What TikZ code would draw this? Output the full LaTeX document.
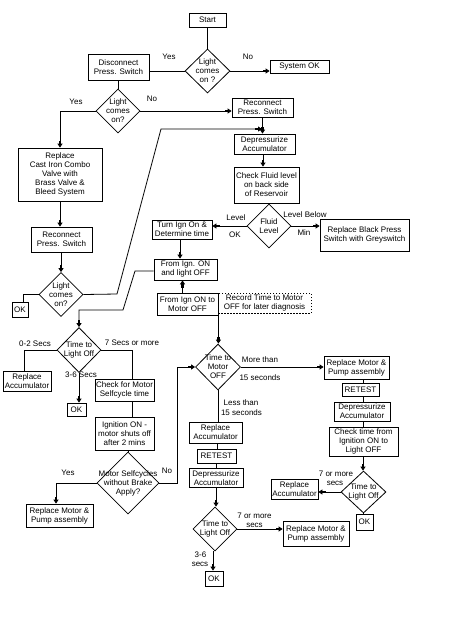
\documentclass[tikz,border=0pt]{standalone}
\usepackage{fontspec}
\setmainfont{Liberation Sans}
\usetikzlibrary{shapes.geometric,arrows.meta}
\begin{document}
\begin{tikzpicture}[x=1pt,y=-1pt,
  every node/.style={font=\fontsize{8}{9}\selectfont},
  box/.style={draw, rectangle, align=center, inner sep=0pt, line width=0.8pt},
  dbox/.style={box, dash pattern=on 1.5pt off 1.5pt},
  dia/.style={draw, diamond, inner sep=0pt, line width=0.8pt},
  lbl/.style={align=center, inner sep=0pt},
  ln/.style={line width=0.8pt},
  arr/.style={ln, -{Rectangle[length=3pt,width=2.4pt]Triangle[length=4pt,width=5pt]}},
]
\fill[white] (0,0) rectangle (448,625);
\useasboundingbox (0,0) rectangle (448,625);

% top part
\node[box, minimum width=37pt, minimum height=14pt] (start) at (207.5,20) {Start};
\node[dia, minimum width=45pt, minimum height=44pt, label={[lbl]center:{Light\\comes\\on ?}}] (d1) at (207.5,71) {};
\node[box, minimum width=61pt, minimum height=26pt] (disc) at (118.5,67) {Disconnect\\Press. Switch};
\node[box, minimum width=59pt, minimum height=13pt] (sysok) at (299.5,67) {System OK};
\node[dia, minimum width=44pt, minimum height=44pt, label={[lbl]center:{Light\\comes\\on?}}] (d2) at (118,111) {};
\node[box, minimum width=61pt, minimum height=19pt] (reconR) at (262.5,107.5) {Reconnect\\Press. Switch};
\node[box, minimum width=61pt, minimum height=20pt] (dep1) at (264.5,144) {Depressurize\\Accumulator};
\node[box, minimum width=65pt, minimum height=36pt] (check) at (266.5,185) {Check Fluid level\\on back side\\of Reservoir};
\node[dia, minimum width=44pt, minimum height=44pt, label={[lbl]center:{Fluid\\Level}}] (fluid) at (269,226) {};
\node[box, minimum width=60pt, minimum height=19pt] (turn) at (182,229.5) {Turn Ign On \&\\Determine time};
\node[box, minimum width=89pt, minimum height=32pt] (black) at (364.5,235) {Replace Black Press\\Switch with Greyswitch};
\node[box, minimum width=63pt, minimum height=21pt] (fromA) at (185.5,269.5) {From Ign. ON\\and light OFF};
\node[box, minimum width=61pt, minimum height=22pt] (fromB) at (187.5,304) {From Ign ON to\\Motor OFF};
\node[dbox, minimum width=93pt, minimum height=20pt] (record) at (264.5,303) {Record Time to Motor\\OFF for later diagnosis};

% left column
\node[box, minimum width=84pt, minimum height=53pt] (replcast) at (60,174.5) {Replace\\Cast Iron Combo\\Valve with\\Brass Valve \&\\Bleed System};
\node[box, minimum width=61pt, minimum height=25pt] (reconL) at (61.5,239.5) {Reconnect\\Press. Switch};
\node[dia, minimum width=44pt, minimum height=44pt, label={[lbl]center:{Light\\comes\\on?}}] (d3) at (61,294.5) {};
\node[box, minimum width=16pt, minimum height=15pt] (ok1) at (20,310) {OK};
\node[dia, minimum width=44pt, minimum height=45pt, label={[lbl]center:{Time to\\Light Off}}] (d4) at (79,350) {};
\node[box, minimum width=48pt, minimum height=20pt] (replacc1) at (27,381) {Replace\\Accumulator};
\node[box, minimum width=19pt, minimum height=13pt] (ok2) at (76.5,409.5) {OK};
\node[box, minimum width=59pt, minimum height=22pt] (checkmotor) at (124.5,390) {Check for Motor\\Selfcycle time};
\node[box, minimum width=59pt, minimum height=33pt] (ignition) at (124.5,433.5) {Ignition ON -\\motor shuts off\\after 2 mins};
\node[dia, minimum width=62pt, minimum height=62pt, label={[lbl]center:{Motor Selfcycles\\without Brake\\Apply?}}] (d5) at (128,483) {};
\node[box, minimum width=67pt, minimum height=23pt] (replmotor1) at (59.5,515.5) {Replace Motor \&\\Pump assembly};

% middle column
\node[dia, minimum width=45pt, minimum height=46pt, label={[lbl]center:{Time to\\Motor\\OFF}}] (d6) at (218,367) {};
\node[box, minimum width=53pt, minimum height=21pt] (replacc2) at (215.5,432.5) {Replace\\Accumulator};
\node[box, minimum width=39pt, minimum height=14pt] (retest1) at (216.5,456) {RETEST};
\node[box, minimum width=54pt, minimum height=19pt] (dep2) at (216,478) {Depressurize\\Accumulator};
\node[dia, minimum width=44pt, minimum height=44pt, label={[lbl]center:{Time to\\Light Off}}] (d7) at (215,529) {};
\node[box, minimum width=66pt, minimum height=25pt] (replmotor3) at (316,533.5) {Replace Motor \&\\Pump assembly};
\node[box, minimum width=18pt, minimum height=15pt] (ok3) at (214,578.5) {OK};

% right column
\node[box, minimum width=65pt, minimum height=23pt] (replmotor2) at (356.5,367.5) {Replace Motor \&\\Pump assembly};
\node[box, minimum width=37pt, minimum height=13pt] (retest2) at (360.5,389.5) {RETEST};
\node[box, minimum width=56pt, minimum height=19pt] (dep3) at (362,411.5) {Depressurize\\Accumulator};
\node[box, minimum width=69pt, minimum height=29pt] (checktime) at (363.5,441.5) {Check time from\\Ignition ON to\\Light OFF};
\node[dia, minimum width=45pt, minimum height=42pt, label={[lbl]center:{Time to\\Light Off}}] (d8) at (363.5,492) {};
\node[box, minimum width=47pt, minimum height=20pt] (replacc3) at (294.5,489) {Replace\\Accumulator};
\node[box, minimum width=17pt, minimum height=16pt] (ok4) at (364.5,522) {OK};

% labels
\node[lbl] (l1) at (169,57) {Yes};
\node[lbl] (l2) at (248,57) {No};
\node[lbl] (l3) at (76,102) {Yes};
\node[lbl] (l4) at (152,99) {No};
\node[lbl] (l5) at (236,218) {Level};
\node[lbl] (l6) at (235,235) {OK};
\node[lbl] (l7) at (305,215) {Level Below};
\node[lbl] (l8) at (304,233) {Min};
\node[lbl] (l9) at (35,344) {0-2 Secs};
\node[lbl] (l10) at (132,343) {7 Secs or more};
\node[lbl] (l11) at (81,375) {3-6 Secs};
\node[lbl] (l12) at (68,473) {Yes};
\node[lbl] (l13) at (167,471) {No};
\node[lbl] (l14) at (260,360) {More than};
\node[lbl] (l15) at (260,378) {15 seconds};
\node[lbl] (l16) at (241,403) {Less than};
\node[lbl] (l17) at (241.5,413) {15 seconds};
\node[lbl] (l18) at (254.5,516) {7 or more};
\node[lbl] (l19) at (254.5,525) {secs};
\node[lbl] (l20) at (200.5,555) {3-6};
\node[lbl] (l21) at (200,564) {secs};
\node[lbl] (l22) at (336,474) {7 or more};
\node[lbl] (l23) at (335,483) {secs};

% helper coordinates
\coordinate (j1) at (117,294);
\coordinate (j2) at (161,129);
\coordinate (j3) at (262,129);
\coordinate (k1) at (135,271);
\coordinate (k2) at (123,310);
\coordinate (k3) at (79,310);
\coordinate (n1) at (177,367);

% connectors
\draw[ln] (start.south) -- (d1.north);
\draw[ln] (d1.west) -- (d1.west -| disc.east);
\draw[arr] (d1.east) -- (d1.east -| sysok.west);
\draw[ln] (disc.south) -- (disc.south |- d2.north);
\draw[arr] (d2.west) -| (replcast.north);
\draw[arr] (d2.east) -- (d2.east -| reconR.west);
\draw[arr] (reconR.south) -- (reconR.south |- dep1.north);
\draw[arr] ([xshift=-1.5pt]dep1.south) -- ([xshift=-1.5pt]dep1.south |- check.north);
\draw[ln] (check.south -| fluid.north) -- (fluid.north);
\draw[arr] (fluid.west) -- (fluid.west -| turn.east);
\draw[arr] (fluid.east) -- (fluid.east -| black.west);
\draw[arr] ([xshift=-2pt]turn.south) -- ([xshift=-2pt]turn.south |- fromA.north);
\draw[arr] ([xshift=-5pt]fromB.north) -- ([xshift=-5pt]fromB.north |- fromA.south);
\draw[arr] (fromA.west |- k1) -- (k1) -- (k2) -- (k3) -- (d4.north);
\draw[arr] (replcast.south) -- (replcast.south |- reconL.north);
\draw[arr] (reconL.south -| d3.north) -- (d3.north);
\draw[ln] (d3.west) -| ([xshift=3pt]ok1.north);
\draw[arr] (d3.east) -- (j1) -- (j2) -- (j3);
\draw[ln] (d4.west) -| ([xshift=-3pt]replacc1.north);
\draw[ln] (d4.east) -| ([xshift=7.5pt]checkmotor.north);
\draw[arr] (d4.south) -- (d4.south |- ok2.north);
\draw[ln] ([xshift=7.5pt]checkmotor.south) -- ([xshift=7.5pt]ignition.north);
\draw[ln] (d5.north) -- (d5.north |- ignition.south);
\draw[arr] (d5.west) -| ([xshift=-3.5pt]replmotor1.north);
\draw[arr] (d5.east) -| (n1) -- (d6.west);
\draw[arr] (fromB.south east) -- (fromB.south east |- d6.north);
\draw[arr] (d6.east) -- (d6.east -| replmotor2.west);
\draw[ln] (d6.south) -- (d6.south |- replacc2.north);
\draw[ln] ([xshift=1.5pt]replacc2.south) -- ([xshift=1.5pt]replacc2.south |- retest1.north);
\draw[ln] (retest1.south) -- (retest1.south |- dep2.north);
\draw[arr] (dep2.south) -- (dep2.south |- d7.north);
\draw[arr] (d7.east) -- (d7.east -| replmotor3.west);
\draw[arr] ([xshift=-2pt]d7.south) -- ([xshift=-2pt]d7.south |- ok3.north);
\draw[ln] ([xshift=6.5pt]replmotor2.south) -- ([xshift=6.5pt]replmotor2.south |- retest2.north);
\draw[ln] ([xshift=2.5pt]retest2.south) -- ([xshift=2.5pt]retest2.south |- dep3.north);
\draw[ln] ([xshift=1pt]dep3.south) -- ([xshift=1pt]dep3.south |- checktime.north);
\draw[arr] ([xshift=-0.5pt]checktime.south) -- ([xshift=-0.5pt]checktime.south |- d8.north);
\draw[arr] (d8.west) -- (d8.west -| replacc3.east);
\draw[ln] (d8.south) -- (d8.south |- ok4.north);
\end{tikzpicture}
\end{document}
